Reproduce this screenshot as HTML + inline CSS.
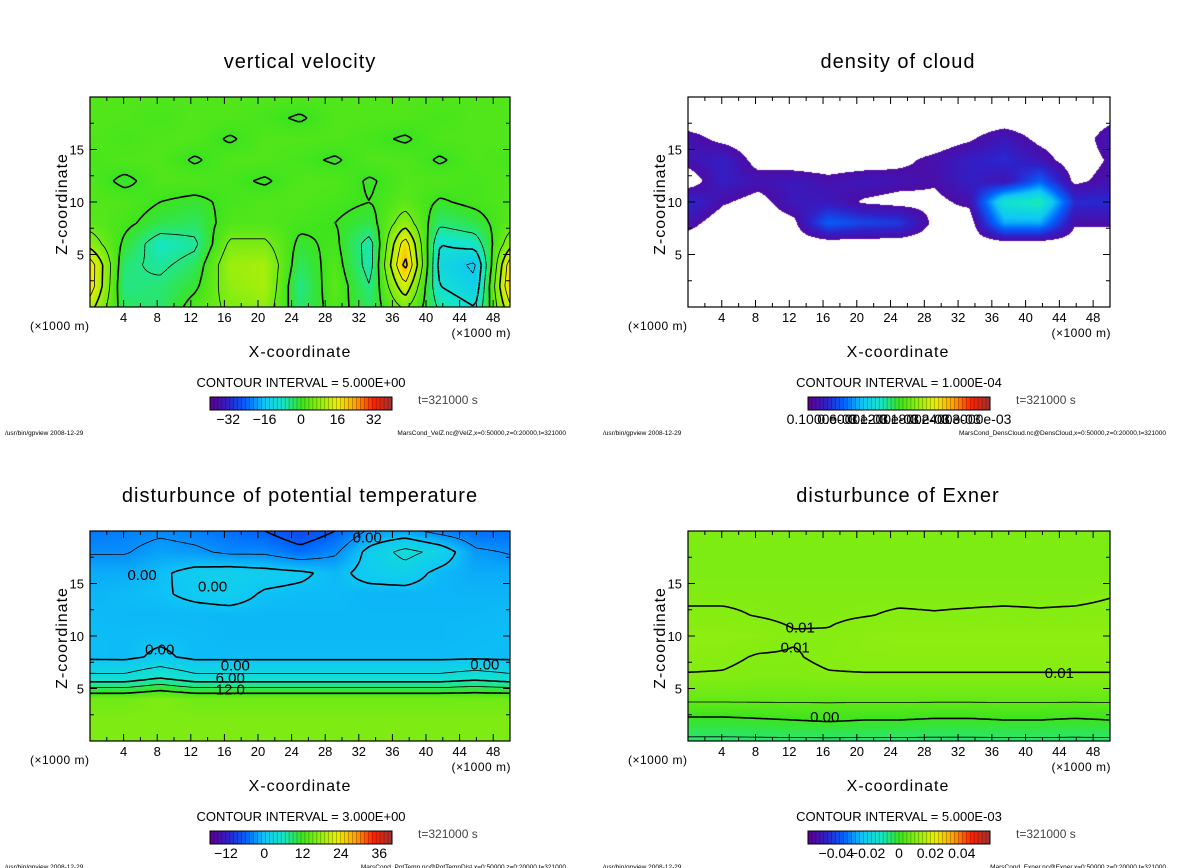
<!DOCTYPE html>
<html><head><meta charset="utf-8">
<style>
html,body{margin:0;padding:0;background:#fff;}
body{width:1200px;height:868px;position:relative;overflow:hidden;font-family:"Liberation Sans",sans-serif;}
canvas{position:absolute;}
svg{position:absolute;left:0;top:0;}
</style></head>
<body>
<canvas id="c0" width="420" height="210" style="left:90px;top:97px"></canvas>
<canvas id="c1" width="422" height="210" style="left:688px;top:97px"></canvas>
<canvas id="c2" width="420" height="210" style="left:90px;top:531px"></canvas>
<canvas id="c3" width="422" height="210" style="left:688px;top:531px"></canvas>
<svg id="ov" width="1200" height="868"></svg>
<script>
const xTicks=[4,8,12,16,20,24,28,32,36,40,44,48];
const zTicks=[5,10,15];
// grids: rows z=0,2,...,20 ; cols x=0..50 in 12 intervals
const velGrid=[
[12,-3,-4,2,6,8,-4,2,-3,6,-6,-10,14],
[18,-5,-4,-1,8,10,-5,3,-5,14,-10,-14,20],
[18,-4,-6,-3,9,10,-3,2,-7,22,-12,-16,18],
[8,-1,-8,-6,6,6,-1,1,-7,18,-10,-8,8],
[3,1,-2,-3,2,2,1,0,-2,8,-4,-2,3],
[2,2,0,-1,1,2,2,1,0,3,-0.5,1,2],
[2,-1,2,2,1,-0.5,2,2,-0.5,2,2,1,2],
[1,2,2,-0.5,2,2,1,-0.5,2,2,-0.5,2,1],
[2,1,2,2,-0.5,2,2,2,1,-0.5,2,2,2],
[2,2,1,2,2,1,-0.5,2,2,2,1,2,2],
[2,2,2,2,2,2,2,2,2,2,2,2,2]];
const cloudGrid=[
[0,0,0,0,0,0,0,0,0,0,0,0,0],
[0,0,0,0,0,0,0,0,0,0,0,0,0],
[0,0,0,0,0,0,0,0,0,0,0,0,0],
[0,0,0,0,0,0,0,0,0,0,0,0,0],
[0.8,0,0,0.3,2.5,2,1.8,0.3,0,3.5,3.5,0.6,0.6],
[1.5,0.6,0.2,1,1,0.4,0.2,0.3,0.7,5,5.5,1.5,1.5],
[0,1.2,0.8,1,0.7,1,0.8,0.6,1.2,0.8,2.5,0.3,0.8],
[0.8,1.2,0.2,0,0,0,0.3,0.7,1.2,1.5,0.9,0,0.6],
[0.8,0.3,0,0,0,0,0,0,0.4,1,0.3,0,0.9],
[0,0,0,0,0,0,0,0,0,0,0,0,0.3],
[0,0,0,0,0,0,0,0,0,0,0,0,0]];
const thetaGrid=[
[16,16,16,16,16,16,16,16,16,16,16,16,16],
[16,16,16,16,16,16,16,16,16,16,16,16,16],
[15,15,16,15,15,15,15,15,15,15,15,15,15],
[4,4,6,4,4,4,4,4,4,4,4,5,4],
[-0.5,-0.6,0.5,-0.6,-0.6,-0.6,-0.6,-0.6,-0.6,-0.6,-0.6,-0.5,-0.6],
[-0.5,-0.6,-0.5,-0.6,-0.8,-0.8,-0.8,-0.8,-0.8,-0.8,-0.8,-0.6,-0.5],
[-0.6,-0.8,-0.8,-0.8,-0.8,-0.8,-0.8,-0.8,-0.8,-0.8,-0.8,-0.8,-0.6],
[-1,-0.6,-0.3,0.5,1,-0.3,-0.6,-0.6,-1,-1,-1,-1,-1],
[-1.5,-1.5,-0.5,1,1.5,1,0.5,-0.8,1,1.5,-0.8,-1.5,-1.5],
[-3.2,-3.2,-2,-2.5,-3.5,-3.5,-5,-3.5,1,4,2,-2.5,-3.2],
[-4.5,-4,-3.5,-4,-5,-6,-8,-6,-2.5,-2,-4,-5,-5]];
const exnerGrid=[
[-0.006,-0.006,-0.006,-0.006,-0.006,-0.006,-0.006,-0.006,-0.006,-0.006,-0.006,-0.006,-0.006],
[-0.001,-0.001,-0.0005,0,0.0005,0,0,-0.0005,-0.0005,0,0,-0.0005,0],
[0.006,0.006,0.006,0.006,0.006,0.006,0.006,0.006,0.006,0.006,0.006,0.006,0.006],
[0.0097,0.0097,0.0092,0.0092,0.0097,0.0097,0.0097,0.0097,0.0097,0.0097,0.0097,0.0097,0.0097],
[0.0108,0.0105,0.0098,0.0098,0.0105,0.0108,0.0108,0.0108,0.0108,0.0108,0.0108,0.0108,0.0108],
[0.0112,0.0112,0.0110,0.0102,0.0102,0.0110,0.0112,0.0112,0.0112,0.0112,0.0112,0.0112,0.0112],
[0.0103,0.0103,0.0099,0.0096,0.0097,0.0099,0.0102,0.0101,0.0102,0.0103,0.0102,0.0103,0.0104],
[0.0096,0.0096,0.0096,0.0096,0.0096,0.0096,0.0096,0.0096,0.0096,0.0096,0.0096,0.0096,0.0099],
[0.009,0.009,0.009,0.009,0.009,0.009,0.009,0.009,0.009,0.009,0.009,0.009,0.009],
[0.009,0.009,0.009,0.009,0.009,0.009,0.009,0.009,0.009,0.009,0.009,0.009,0.009],
[0.009,0.009,0.009,0.009,0.009,0.009,0.009,0.009,0.009,0.009,0.009,0.009,0.009]];
const velLevels=[-15,-10,-5,0,5,10,15,20];
const cloudLevels=[5.5];
const thetaLevels=[-9,-6,-3,0,3,6,9,12];
const exnerLevels=[-0.005,0,0.005,0.01];
const velBarLabels=["−32","−16","0","16","32"];const velBarVals=[-32,-16,0,16,32];
const cloudBarLabels=["0.1000e-03","0.6000e-03","0.1200e-03","0.1800e-03","0.2400e-03","0.3000e-03"];const cloudBarVals=[1,3.2,5.4,7.6,9.8,12];
const thetaBarLabels=["−12","0","12","24","36"];const thetaBarVals=[-12,0,12,24,36];
const exnerBarLabels=["−0.04","−0.02","0","0.02","0.04"];const exnerBarVals=[-0.04,-0.02,0,0.02,0.04];
const thetaLabels=[["0.00",17.3,7.2],["6.00",16.7,6.0],["12.0",16.7,4.9],["0.00",47,7.3],["0.00",14.6,14.7],["0.00",6.2,15.8],["0.00",33,19.4],["0.00",8.3,8.7]];
const exnerLabels=[["0.01",13.3,10.8],["0.01",12.7,8.9],["0.01",44,6.5],["0.00",16.2,2.3]];

const stops=[[0,96,0,144],[0.1,48,32,200],[0.2,0,100,255],[0.3,15,200,245],[0.4,20,230,200],[0.5,60,228,30],[0.6,144,238,16],[0.7,238,238,0],[0.8,255,160,0],[0.9,255,32,0],[1,160,48,48]];
function cmap(t){t=Math.max(0,Math.min(1,t));for(let i=1;i<stops.length;i++){if(t<=stops[i][0]){const a=stops[i-1],b=stops[i],f=(t-a[0])/(b[0]-a[0]);return [a[1]+f*(b[1]-a[1]),a[2]+f*(b[2]-a[2]),a[3]+f*(b[3]-a[3])];}}return [160,48,48];}
function sample(g,x,z){let fx=x/50*12,fz=z/20*10;let i=Math.min(11,Math.floor(fx)),j=Math.min(9,Math.floor(fz));let u=fx-i,v=fz-j;
return g[j][i]*(1-u)*(1-v)+g[j][i+1]*u*(1-v)+g[j+1][i]*(1-u)*v+g[j+1][i+1]*u*v;}
const NS="http://www.w3.org/2000/svg";const ov=document.getElementById('ov');
function el(tag,attrs,parent){const e=document.createElementNS(NS,tag);for(const k in attrs)e.setAttribute(k,attrs[k]);(parent||ov).appendChild(e);return e;}
function txt(s,x,y,size,anchor,parent,extra){const t=el('text',Object.assign({x:x,y:y,'font-size':size,'text-anchor':anchor||'middle','font-family':'Liberation Sans, sans-serif',fill:'#000'},extra||{}),parent);t.textContent=s;return t;}

const panels=[
 {cid:'c0',x0:90,y0:97,w:420,g:velGrid,vmin:-40,vmax:40,levels:velLevels,title:'vertical velocity',ci:'CONTOUR INTERVAL = 5.000E+00',bl:velBarLabels,bv:velBarVals,foot:'MarsCond_VelZ.nc@VelZ,x=0:50000,z=0:20000,t=321000',name:'velocity'},
 {cid:'c1',x0:688,y0:97,w:422,g:cloudGrid,vmin:0,vmax:13,levels:cloudLevels,white:0.5,title:'density of cloud',ci:'CONTOUR INTERVAL = 1.000E-04',bl:cloudBarLabels,bv:cloudBarVals,foot:'MarsCond_DensCloud.nc@DensCloud,x=0:50000,z=0:20000,t=321000',name:'cloud'},
 {cid:'c2',x0:90,y0:531,w:420,g:thetaGrid,vmin:-17,vmax:40,levels:thetaLevels,thick:6,title:'disturbunce of potential temperature',ci:'CONTOUR INTERVAL = 3.000E+00',bl:thetaBarLabels,bv:thetaBarVals,foot:'MarsCond_PotTemp.nc@PotTempDist,x=0:50000,z=0:20000,t=321000',name:'theta',labels:thetaLabels},
 {cid:'c3',x0:688,y0:531,w:422,g:exnerGrid,vmin:-0.058,vmax:0.058,levels:exnerLevels,thick:0.01,title:'disturbunce of Exner',ci:'CONTOUR INTERVAL = 5.000E-03',bl:exnerBarLabels,bv:exnerBarVals,foot:'MarsCond_Exner.nc@Exner,x=0:50000,z=0:20000,t=321000',name:'exner',labels:exnerLabels}
];
panels.forEach((p,pi)=>{
 const H=210,W=p.w;
 const sx=x=>p.x0+x/50*W, sz=z=>p.y0+H-z/20*H;
 const ctx=document.getElementById(p.cid).getContext('2d');const img=ctx.createImageData(W,H);
 for(let py=0;py<H;py++)for(let px=0;px<W;px++){const v=sample(p.g,(px+0.5)/W*50,(H-py-0.5)/H*20);const k=(py*W+px)*4;
  let c=(p.white!==undefined&&v<p.white)?[255,255,255]:cmap((v-p.vmin)/(p.vmax-p.vmin));img.data[k]=c[0];img.data[k+1]=c[1];img.data[k+2]=c[2];img.data[k+3]=255;}
 ctx.putImageData(img,0,0);
 const grp=el('g',{});
 
 
 const NX=125,NZ=50;const vals=[];for(let j=0;j<=NZ;j++){vals.push([]);for(let i=0;i<=NX;i++)vals[j].push(sample(p.g,i/NX*50,j/NZ*20));}
 p.levels.forEach(L=>{let d='';
  for(let j=0;j<NZ;j++)for(let i=0;i<NX;i++){
   const c=[[i,j,vals[j][i]],[i+1,j,vals[j][i+1]],[i+1,j+1,vals[j+1][i+1]],[i,j+1,vals[j+1][i]]];const pts=[];
   for(let e=0;e<4;e++){const a=c[e],b=c[(e+1)%4];if((a[2]<L)!==(b[2]<L)){const f=(L-a[2])/(b[2]-a[2]);pts.push([a[0]+f*(b[0]-a[0]),a[1]+f*(b[1]-a[1])]);}}
   for(let q=0;q+1<pts.length;q+=2){d+='M'+sx(pts[q][0]/NX*50).toFixed(1)+' '+sz(pts[q][1]/NZ*20).toFixed(1)+'L'+sx(pts[q+1][0]/NX*50).toFixed(1)+' '+sz(pts[q+1][1]/NZ*20).toFixed(1);}
  }
  if(d){const isThick=p.thick?(Math.abs(L%p.thick)<1e-9):(L%10===0);
   const path=el('path',{d:d,fill:'none',stroke:'#000','stroke-width':isThick?1.6:0.8,'stroke-dasharray':L<0?'4 3':'none'},grp);
   
   }
 });
 (p.labels||[]).forEach(l=>{const t=txt(l[0],sx(l[1]),sz(l[2])+5,15,'middle',grp,{stroke:'none'});
  
  });
 const fr=el('rect',{x:p.x0,y:p.y0,width:W,height:H,fill:'none',stroke:'#000','stroke-width':1.2},grp);
 
 
 let td='';for(let x=2;x<50;x+=2){const L=x%4===0?7:4;td+=`M${sx(x)} ${p.y0+H}v${-L}M${sx(x)} ${p.y0}v${L}`;}
 for(let z=2.5;z<20;z+=2.5){const L=z%5===0?7:4;td+=`M${p.x0} ${sz(z)}h${L}M${p.x0+W} ${sz(z)}h${-L}`;}
 el('path',{d:td,stroke:'#000','stroke-width':1,fill:'none'},grp);
 xTicks.forEach(x=>{const t=txt(String(x),sx(x),p.y0+H+15,13,'middle',grp);
  
  });
 zTicks.forEach(z=>{const t=txt(String(z),p.x0-6,sz(z)+5,13,'end',grp);
  
  });
 const ti=txt(p.title,p.x0+210,p.y0-29,20,'middle',grp,{'letter-spacing':'1'});
 
 
 const yl=txt('Z-coordinate',0,0,16,'middle',grp,{transform:`translate(${p.x0-23},${p.y0+H/2+2}) rotate(-90)`,'letter-spacing':'1'});
 
 
 const xl=txt('X-coordinate',p.x0+210,p.y0+H+50,16,'middle',grp,{'letter-spacing':'1'});
 
 
 const u1=txt('(×1000 m)',p.x0-60,p.y0+H+23,12,'start',grp,{'letter-spacing':'0.5'});
 
 
 const u2=txt('(×1000 m)',p.x0+W+1,p.y0+H+30,12,'end',grp,{'letter-spacing':'0.5'});
 
 
 const ci=txt(p.ci,p.x0+211,p.y0+290,13,'middle',grp);
 
 
 const bx=p.x0+120,bw=182,by=p.y0+300,bh=13,N=46;
 for(let k=0;k<N;k++){const c=cmap((k+0.5)/N);const r=el('rect',{x:bx+k*bw/N,y:by,width:bw/N+0.3,height:bh,fill:`rgb(${c.map(Math.round).join(',')})`},grp);
  
  
  el('line',{x1:bx+k*bw/N,x2:bx+k*bw/N,y1:by,y2:by+bh,stroke:'rgba(0,0,0,0.35)','stroke-width':0.7},grp);}
 el('rect',{x:bx,y:by,width:bw,height:bh,fill:'none',stroke:'#000','stroke-width':1},grp);
 p.bv.forEach((v,k)=>{const t=txt(p.bl[k],bx+(v-p.vmin)/(p.vmax-p.vmin)*bw,by+27,14,'middle',grp);
  
  });
 const tt=txt('t=321000 s',p.x0+328,p.y0+307,12,'start',grp,{fill:'#444'});
 
 
 const f1=txt('/usr/bin/gpview   2008-12-29',p.x0-85,p.y0+338,6.5,'start',grp);
 
 
 const f2=txt(p.foot,p.x0+W+56,p.y0+338,6.5,'end',grp);
 
 
});
</script>
</body></html>
